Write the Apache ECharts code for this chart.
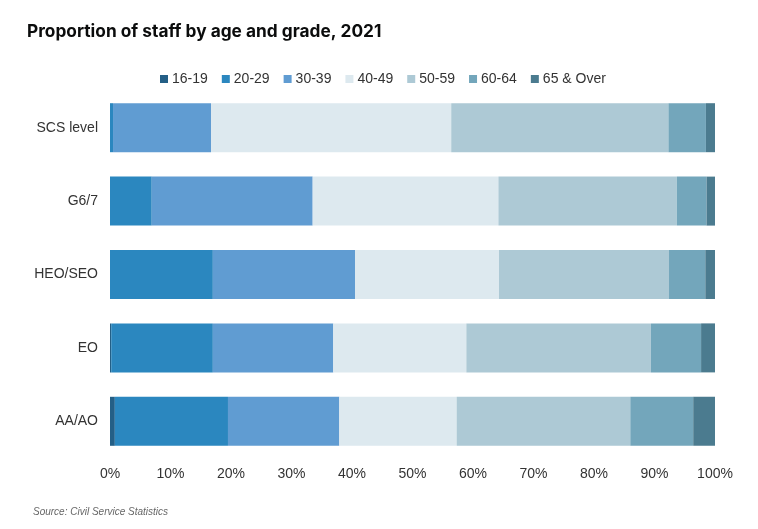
<!DOCTYPE html>
<html>
<head>
<meta charset="utf-8">
<script src="https://cdn.jsdelivr.net/npm/echarts@6/dist/echarts.min.js"></script>
<style>html,body{margin:0;padding:0;background:#fff;}#c{width:758px;height:529px;}</style>
</head>
<body>
<div id="c"></div>
<script>
const categories = ['SCS level', 'G6/7', 'HEO/SEO', 'EO', 'AA/AO'];
const ageGroups = ['16-19', '20-29', '30-39', '40-49', '50-59', '60-64', '65 & Over'];
const s16_19 = [0.0, 0.0, 0.0, 0.2, 0.8];
const s20_29 = [0.5, 6.9, 17.0, 16.8, 18.7];
const s30_39 = [16.2, 26.6, 23.5, 19.9, 18.4];
const s40_49 = [39.7, 30.7, 23.8, 22.0, 19.4];
const s50_59 = [35.9, 29.5, 28.1, 30.5, 28.7];
const s60_64 = [6.2, 4.9, 6.0, 8.3, 10.4];
const s65_over = [1.5, 1.4, 1.6, 2.3, 3.6];
const xTicks = ['0%', '10%', '20%', '30%', '40%', '50%', '60%', '70%', '80%', '90%', '100%'];

const seriesData = [s16_19, s20_29, s30_39, s40_49, s50_59, s60_64, s65_over];
const colors = ['#245f86', '#2b87bf', '#609cd2', '#dde9ef', '#adc9d5', '#73a6bb', '#4b7b8f'];

const chart = echarts.init(document.getElementById('c'));
chart.setOption({
  animation: false,
  color: colors,
  title: {
    text: 'Proportion of staff by age and grade, 2021',
    left: 22, top: 18,
    textStyle: { fontFamily: 'Inter', fontSize: 17.3, fontWeight: 'bold', color: '#0b0c0c' }
  },
  graphic: [{
    type: 'text', left: 33, top: 507,
    style: { text: 'Source: Civil Service Statistics', fontFamily: 'Liberation Sans', fontStyle: 'italic', fontSize: 10, fill: '#666' }
  }],
  legend: {
    top: 67, left: 155,
    itemWidth: 8, itemHeight: 8, itemGap: 14,
    icon: 'rect',
    textStyle: { fontFamily: 'Liberation Sans', fontSize: 14, color: '#333', padding: [0, 0, 0, -1] },
    data: ageGroups
  },
  grid: { left: 110, right: 43, top: 91, height: 367, containLabel: false },
  xAxis: {
    type: 'value', min: 0, max: 100, interval: 10,
    axisLine: { show: false }, axisTick: { show: false }, splitLine: { show: false },
    axisLabel: {
      margin: 9,
      fontFamily: 'Liberation Sans', fontSize: 14, color: '#333',
      formatter: (v) => xTicks[Math.round(v / 10)]
    }
  },
  yAxis: {
    type: 'category', inverse: true, data: categories,
    axisLine: { show: false }, axisTick: { show: false },
    axisLabel: { margin: 12, fontFamily: 'Liberation Sans', fontSize: 14, color: '#333' }
  },
  series: ageGroups.map((name, i) => ({
    name, type: 'bar', stack: 'total', barWidth: 49,
    data: seriesData[i],
    itemStyle: { color: colors[i] }
  }))
});
</script>
</body>
</html>
